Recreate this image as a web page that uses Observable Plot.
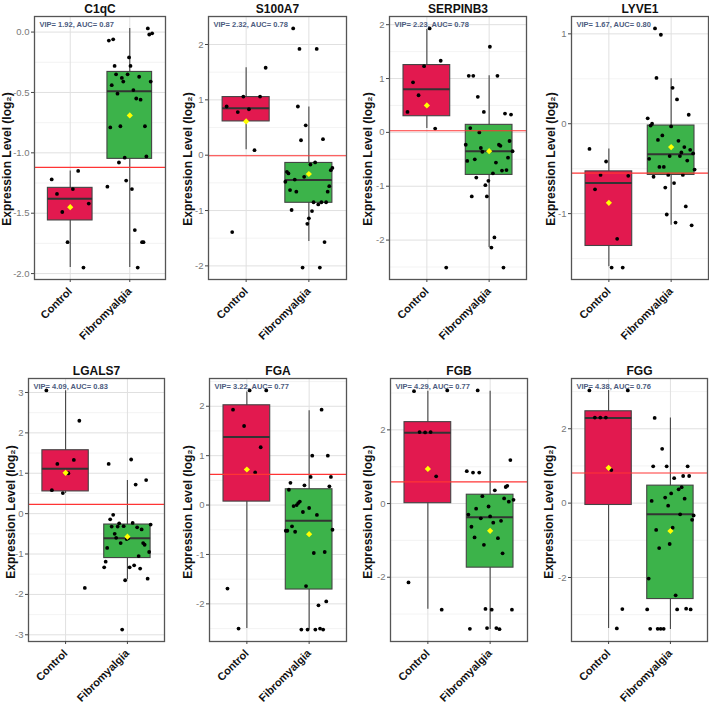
<!DOCTYPE html>
<html><head><meta charset="utf-8">
<script src="https://cdn.jsdelivr.net/npm/d3@7"></script>
<script src="https://cdn.jsdelivr.net/npm/@observablehq/plot@0.6"></script>
<style>
body{margin:0;background:#fff;}
#chart{position:relative;width:709px;height:703px;overflow:hidden;background:#fff;}
#chart .panel{position:absolute;}
</style></head><body><div id="chart"></div>
<script>
// ---------- data ----------
const genes = ["C1qC", "S100A7", "SERPINB3", "LYVE1", "LGALS7", "FGA", "FGB", "FGG"];
const groups = ["Control", "Fibromyalgia"];
const vipScores = ["1.92", "2.32", "2.23", "1.67", "4.09", "3.22", "4.29", "4.38"];
const aucScores = ["0.87", "0.78", "0.78", "0.80", "0.83", "0.77", "0.77", "0.76"];
const cutoffs = [-1.12, -0.01, 0.03, -0.55, 0.23, 0.62, 0.59, 0.81];

// box statistics: [Control, Fibromyalgia]
const whiskerLow  = [[-1.95,-1.95],[0.10,-1.56],[0.07,-2.14],[-1.59,-1.13],[0.50,-1.64],[-2.50,-2.52],[-2.87,-3.42],[-3.37,-3.40]];
const quartile1   = [[-1.56,-1.05],[0.61,-0.86],[0.30,-0.79],[-1.36,-0.57],[0.55,-1.10],[0.07,-1.71],[0.01,-1.74],[-0.05,-2.58]];
const medians     = [[-1.38,-0.49],[0.85,-0.45],[0.80,-0.35],[-0.66,-0.34],[1.11,-0.61],[1.38,-0.32],[1.92,-0.37],[2.29,-0.30]];
const quartile3   = [[-1.29,-0.33],[1.05,-0.14],[1.25,0.14],[-0.53,-0.02],[1.57,-0.27],[2.02,0.32],[2.21,0.24],[2.47,0.47]];
const whiskerHigh = [[-1.15,0.03],[1.58,0.87],[1.91,1.05],[-0.28,0.50],[3.04,0.82],[2.29,1.91],[3.05,3.05],[3.03,2.29]];
const groupMeans  = [[-1.45,-0.69],[0.61,-0.34],[0.50,-0.35],[-0.88,-0.26],[1.01,-0.57],[0.72,-0.59],[0.94,-0.74],[0.95,-0.75]];

// individual samples (listed in their left-to-right order in the picture)
const controlPoints = [
  [-1.22,-1.34,-1.49,-1.74,-1.30,-1.15,-1.95,-1.42],
  [0.88,-1.39,0.78,1.06,0.83,0.09,1.06,1.58],
  [0.38,0.93,0.69,1.23,1.93,0.07,1.33,-2.51],
  [-0.28,-0.73,-0.57,-0.42,-1.60,-1.28,-1.60,-0.58],
  [3.05,0.58,1.23,0.51,1.00,1.33,2.30,-1.84],
  [-1.69,1.93,-2.50,1.60,2.32,0.66,1.17,2.32],
  [-2.14,3.05,1.94,1.93,1.94,0.74,-2.88,3.07],
  [3.03,2.30,2.30,2.30,0.89,-3.37,-2.85,3.03]
];
const fibromyalgiaPoints = [
  [-1.28,-0.07,-0.79,-0.44,-0.06,-0.28,-0.35,-0.51,-1.08,-0.78,-0.38,-0.41,-1.04,-1.23,-0.35,-0.21,-0.28,-1.30,-0.48,-1.64,-0.55,-1.95,-0.37,-0.56,-1.74,-1.74,-0.78,-1.03,0.03,-0.02,-0.41,-0.01],
  [-0.48,-0.30,-0.33,-0.63,-0.99,2.29,-0.44,-0.66,0.88,1.92,0.27,-2.03,-0.39,0.54,-1.24,-1.14,-0.17,-1.01,-0.85,-0.13,1.92,-0.89,-2.03,-0.85,0.29,-1.57,-0.85,-0.66,-0.56,-0.27,-0.23],
  [-0.23,-0.53,1.05,0.08,-1.19,1.05,-0.50,-0.84,0.66,0.00,-0.29,-0.36,0.38,-0.98,-1.19,-0.90,1.59,-2.14,-0.76,-1.95,-0.56,1.05,-0.23,-0.25,-0.71,-2.51,0.35,-0.70,-0.47,-0.16,0.33,-0.35],
  [0.06,-0.39,-0.02,0.00,-0.59,1.06,0.51,-0.18,-0.48,0.99,-0.13,-0.48,-0.71,-1.01,-0.57,-0.36,-0.03,0.40,-0.66,-1.10,0.27,-0.19,-0.36,-0.32,-0.57,-0.26,-0.92,-0.41,0.10,-0.29,-1.13,-0.33,-0.51],
  [-1.33,-1.19,-0.85,1.23,-0.14,-0.32,-0.03,-0.50,-0.60,-0.32,-0.24,-0.73,-2.87,-0.31,-1.65,-0.63,-0.61,-1.33,1.34,-0.23,-1.28,0.72,-0.34,-1.05,-1.36,-0.39,-0.73,-0.77,0.83,-1.61,-0.95,-0.27],
  [-0.52,-0.52,0.31,0.45,-0.43,-0.02,-0.54,0.00,0.04,0.07,-2.52,-0.14,0.40,-1.64,-2.52,-0.06,0.57,1.00,-0.97,-2.52,-0.20,-2.03,-2.50,1.93,-2.52,-0.95,-1.95,1.00,0.38,0.57,-0.50],
  [0.88,-0.30,-3.40,-0.63,0.84,-0.92,-0.14,3.07,0.84,-0.40,0.20,-1.12,-2.86,-3.38,-0.08,-0.35,-2.88,-0.52,0.36,-3.38,-0.94,-3.41,-0.47,-1.35,0.14,0.45,0.48,0.05,1.18,-2.88,0.10],
  [-2.86,-2.03,-3.38,0.06,0.99,2.29,-0.72,-3.38,-1.21,-3.38,1.46,-3.38,0.15,0.99,-0.07,-1.10,0.26,-0.66,0.67,-2.48,-2.86,0.37,-0.30,0.43,0.73,0.12,-2.84,0.99,0.73,-2.86,-0.45,-0.33]
];

// y-axis tick labels per panel
const yTicks = [
  [-2, -1.5, -1, -0.5, 0],
  [-2, -1, 0, 1, 2],
  [-2, -1, 0, 1, 2],
  [-1, 0, 1],
  [-3, -2, -1, 0, 1, 2, 3],
  [-2, -1, 0, 1, 2],
  [-2, 0, 2],
  [-2, 0, 2]
];
const yLabel = "Expression Level (log\u2082)";

// ---------- layout & style ----------
const frames = [
  {x0: 34, x1: 165, y0: 16, y1: 279, lab: 27, labDy: 11},
  {x0: 208, x1: 346, y0: 16, y1: 279, lab: 20, labDy: 11},
  {x0: 389, x1: 526, y0: 16, y1: 279, lab: 21, labDy: 11},
  {x0: 571, x1: 708, y0: 16, y1: 279, lab: 20, labDy: 11},
  {x0: 28, x1: 164, y0: 378, y1: 641, lab: 17, labDy: 2},
  {x0: 209, x1: 346, y0: 378, y1: 641, lab: 21, labDy: 2},
  {x0: 390, x1: 527, y0: 378, y1: 641, lab: 22, labDy: 2},
  {x0: 571, x1: 707, y0: 378, y1: 641, lab: 22, labDy: 2}
];
const boxColors = ["#E2194F", "#3CB34A"];
const FONT = "'Liberation Sans', Arial, Helvetica, sans-serif";
const ML = 44, MR = 4, MT = 22, MB = 66;

const chart = document.getElementById("chart");

genes.forEach((gene, g) => {
  const f = frames[g];
  const stats = groups.map((grp, i) => ({
    pos: i + 1, grp,
    lo: whiskerLow[g][i], q1: quartile1[g][i], med: medians[g][i],
    q3: quartile3[g][i], hi: whiskerHigh[g][i], mean: groupMeans[g][i]
  }));
  const pts = [];
  [controlPoints[g], fibromyalgiaPoints[g]].forEach((vals, i) => {
    const n = vals.length;
    vals.forEach((v, k) => pts.push({pos: i + 1 - 0.4 + 0.8 * (k + 1) / (n + 1), value: v}));
  });
  const all = pts.map(d => d.value).concat(stats.flatMap(s => [s.lo, s.hi]));
  const [mn, mx] = d3.extent(all);
  const pad = (mx - mn) * 0.05;
  const dom = [mn - pad, mx + pad];
  const ticks = yTicks[g];
  const step = ticks[1] - ticks[0];
  const minor = [ticks[0] - step / 2, ...ticks.map(t => t + step / 2)]
    .filter(t => t > dom[0] && t < dom[1]);
  const dec = ticks.some(t => !Number.isInteger(t)) ? 1 : 0;

  const width = (f.x1 - f.x0) + ML + MR;
  const height = (f.y1 - f.y0) + MT + MB;

  const svg = Plot.plot({
    width, height,
    marginLeft: ML, marginRight: MR, marginTop: MT, marginBottom: MB,
    style: {fontFamily: FONT, overflow: "visible", background: "transparent", color: "#222"},
    x: {type: "linear", domain: [0.4, 2.6]},
    y: {domain: dom},
    marks: [
      Plot.gridY(minor, {stroke: "#f0f0f0", strokeOpacity: 1, strokeWidth: 0.8}),
      Plot.gridY(ticks, {stroke: "#e0e0e0", strokeOpacity: 1, strokeWidth: 1}),
      Plot.gridX([1, 2], {stroke: "#e0e0e0", strokeOpacity: 1, strokeWidth: 1}),
      Plot.ruleX(stats, {x: "pos", y1: "lo", y2: "hi", stroke: "#444", strokeWidth: 1.1}),
      ...stats.map((s, i) => Plot.rect([s], {
        x1: d => d.pos - 0.375, x2: d => d.pos + 0.375, y1: "q1", y2: "q3",
        fill: boxColors[i], stroke: "#444", strokeWidth: 1.1
      })),
      Plot.ruleY(stats, {y: "med", x1: d => d.pos - 0.375, x2: d => d.pos + 0.375, stroke: "#333", strokeWidth: 2}),
      Plot.dot(pts, {x: "pos", y: "value", r: 1.9, fill: "#000", stroke: null}),
      Plot.dot(stats, {x: "pos", y: "mean", symbol: "diamond2", r: 2.8, fill: "#FFFF00", stroke: null}),
      Plot.ruleY([cutoffs[g]], {stroke: "#FF3434", strokeWidth: 1.2}),
      Plot.frame({stroke: "#555", strokeWidth: 1.3}),
      Plot.axisY(ticks, {
        tickSize: 3, tickPadding: 2, fontSize: 9.5, stroke: "#444", fill: "#777",
        tickFormat: d => d.toFixed(dec), label: null
      }),
      Plot.axisX([1, 2], {
        tickSize: 3, tickPadding: 7, fontSize: 11, fontWeight: "bold", stroke: "#444", fill: "#111",
        tickRotate: -45, tickFormat: d => groups[d - 1], label: null
      }),
      Plot.text([gene], {frameAnchor: "top", lineAnchor: "bottom", dy: -4, fontSize: 12, fontWeight: "bold", fill: "#111"}),
      Plot.text([`VIP= ${vipScores[g]}, AUC= ${aucScores[g]}`], {
        frameAnchor: "top-left", textAnchor: "start", lineAnchor: "middle", dx: 5, dy: 8,
        fontSize: 7.5, fontWeight: "bold", fill: "#4B5B7E"
      }),
      Plot.text([yLabel], {
        frameAnchor: "left", textAnchor: "middle", lineAnchor: "middle", rotate: -90, dx: -f.lab, dy: f.labDy,
        fontSize: 12, fontWeight: "bold", fill: "#111"
      })
    ]
  });
  const div = document.createElement("div");
  div.className = "panel";
  div.style.left = (f.x0 - ML) + "px";
  div.style.top = (f.y0 - MT) + "px";
  div.style.width = width + "px";
  div.appendChild(svg);
  chart.appendChild(div);
});
</script>
</body></html>
